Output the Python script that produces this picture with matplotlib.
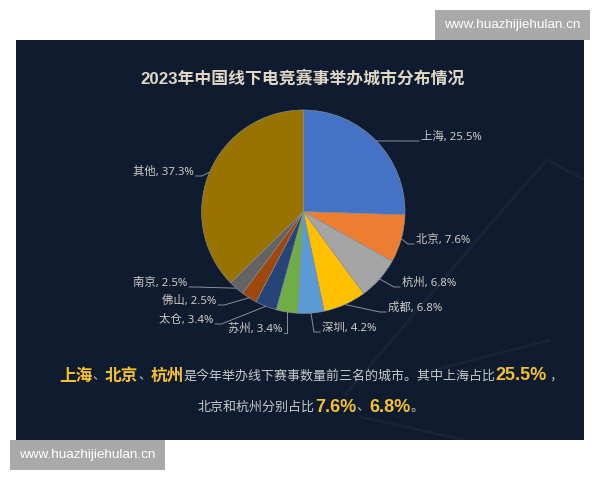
import numpy as np
import matplotlib
matplotlib.use('Agg')
import matplotlib.pyplot as plt
from matplotlib.patches import Rectangle

plt.rcParams['font.family'] = ['Noto Sans', 'Noto Sans CJK SC', 'DejaVu Sans']
BOLD_FONTS = ['Liberation Sans', 'Noto Sans CJK SC', 'DejaVu Sans']

cities = ['上海', '北京', '杭州', '成都', '深圳', '苏州', '太仓', '佛山', '南京', '其他']
shares = [25.5, 7.6, 6.8, 6.8, 4.2, 3.4, 3.4, 2.5, 2.5, 37.3]
colors = ['#4472C4', '#ED7D31', '#A5A5A5', '#FFC000', '#5B9BD5',
          '#70AD47', '#264478', '#9E480E', '#636363', '#997300']
title = '2023年中国线下电竞赛事举办城市分布情况'
site = 'www.huazhijiehulan.cn'

# label anchors in pixels: left edge of the text and its middle height
label_x = [421, 416, 402, 388, 322, 228, 159, 162, 133, 133]
label_y = [137, 240, 283, 308, 328, 329, 320, 301, 283, 172]

line1 = [('上海', 'hi', 12), ('、', 'tx', 9), ('北京', 'hi', 12), ('、', 'tx', 9), ('杭州', 'hi', 12),
         ('是今年举办线下赛事数量前三名的城市。其中上海占比', 'tx', 9.35), ('25.5%', 'hi', 13), (' ，', 'tx', 9)]
line2 = [('北京和杭州分别占比', 'tx', 9.35), ('7.6%', 'hi', 13), ('、', 'tx', 9.35), ('6.8%', 'hi', 13), ('。', 'tx', 9.35)]

BG = '#0f1c2f'
LABEL = '#cfcbc3'
LEADER = '#87909b'

fig = plt.figure(figsize=(6, 4.8), dpi=100, facecolor='white')

# panel, faint background strokes, watermarks
back = fig.add_axes([0, 0, 1, 1], zorder=0)
back.set_xlim(0, 600)
back.set_ylim(480, 0)
back.axis('off')
panel = Rectangle((16, 40), 568, 400, fc=BG, ec='none')
back.add_patch(panel)
for xs, ys in [([345, 500, 547, 590], [395, 213, 160, 183]),
               ([361, 465], [417, 440]),
               ([423, 550], [373, 340])]:
    stroke, = back.plot(xs, ys, color='#182536', lw=2, solid_capstyle='butt')
    stroke.set_clip_path(panel)
back.add_patch(Rectangle((435, 10), 155, 30, fc='#a9a9a9', ec='none'))
back.add_patch(Rectangle((10, 440), 155, 30, fc='#a9a9a9', ec='none'))

# pie
cx, cy, r = 303.3, 211.7, 101.7
ax = fig.add_axes([(cx - r) / 600, 1 - (cy + r) / 480, 2 * r / 600, 2 * r / 480], zorder=1)
wedges, _ = ax.pie(shares, colors=colors, startangle=90, counterclock=False, radius=1,
                   wedgeprops={'linewidth': 0.4, 'edgecolor': '#8f959c'})
ax.set_xlim(-1, 1)
ax.set_ylim(-1, 1)

# text layer
top = fig.add_axes([0, 0, 1, 1], zorder=2)
top.set_xlim(0, 600)
top.set_ylim(480, 0)
top.axis('off')
top.patch.set_alpha(0)

top.text(303, 78, title, color='#e0d7c6', fontsize=12.15, fontweight='bold', family=BOLD_FONTS,
         ha='center', va='center')
top.text(512.5, 25, site, color='white', fontsize=9.7, family='Liberation Sans', ha='center', va='center')
top.text(87.5, 455, site, color='white', fontsize=9.7, family='Liberation Sans', ha='center', va='center')

fig.canvas.draw()
renderer = fig.canvas.get_renderer()

for i, w in enumerate(wedges):
    mid = np.deg2rad((w.theta1 + w.theta2) / 2)
    x0 = cx + r * np.cos(mid)
    y0 = cy - r * np.sin(mid)
    t = top.text(label_x[i], label_y[i], f'{cities[i]}, {shares[i]}%', color=LABEL, fontsize=8.2,
                 ha='left', va='center')
    bb = t.get_window_extent(renderer)
    if x0 > cx:
        end = label_x[i] - 2
        knee = max(end - 6, x0)
    else:
        end = bb.x1 + 2
        knee = min(end + 6, x0)
    top.plot([x0, knee, end], [y0, label_y[i] + 4, label_y[i] + 4], color=LEADER, lw=0.7)


def draw_runs(runs, x, y):
    for s, kind, size in runs:
        if kind == 'hi':
            t = top.text(x, y, s, color='#f4c02f', fontsize=size, fontweight='bold', family=BOLD_FONTS,
                         ha='left', va='center')
        else:
            t = top.text(x, y, s, color='#c8c8c8', fontsize=size, ha='left', va='center')
        x = t.get_window_extent(renderer).x1


draw_runs(line1, 59, 376)
draw_runs(line2, 198, 407)

fig.savefig('out.png', dpi=100, facecolor='white')
